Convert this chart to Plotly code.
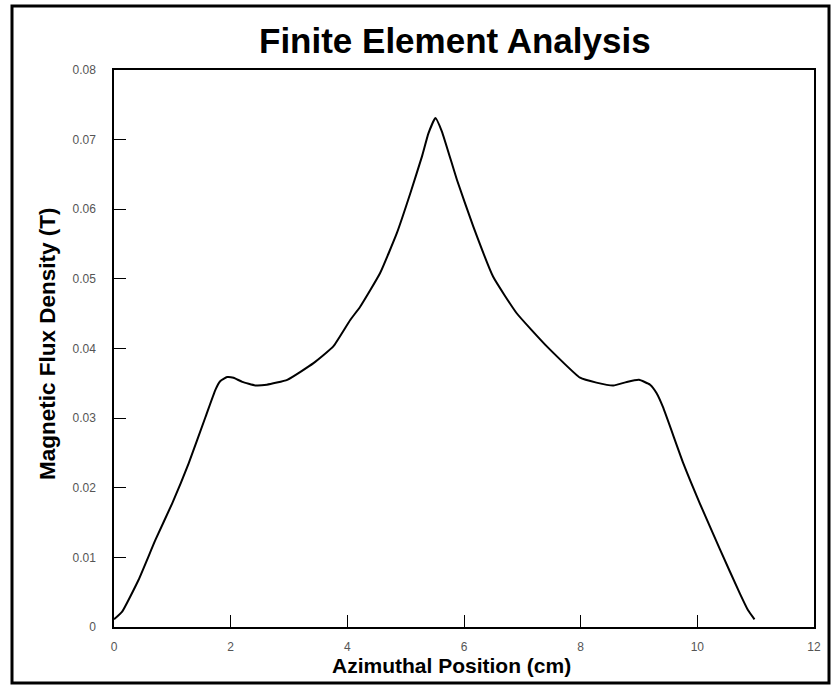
import plotly.graph_objects as go

# Flux density profile along the azimuthal direction
position_cm = [0.0, 0.14, 0.42, 0.71, 1.0, 1.28, 1.57, 1.74, 1.82, 1.94, 2.05, 2.2,
               2.42, 2.62, 2.97, 3.42, 3.76, 4.05, 4.22, 4.56, 4.85, 5.08, 5.28, 5.39,
               5.51, 5.62, 5.88, 6.16, 6.50, 6.90, 7.42, 7.99, 8.27, 8.56, 8.79, 9.0,
               9.19, 9.30, 9.41, 9.76, 10.04, 10.39, 10.73, 10.87, 10.98]
flux_density_t = [0.0011, 0.0022, 0.00675, 0.0125, 0.0178, 0.0235, 0.0302, 0.0341, 0.0353,
                  0.0359, 0.0358, 0.0352, 0.0347, 0.0348, 0.0355, 0.0379, 0.0403, 0.0441,
                  0.0460, 0.0508, 0.0566, 0.0623, 0.0676, 0.0709, 0.0731, 0.0712, 0.0642,
                  0.0575, 0.0503, 0.0451, 0.0403, 0.0358, 0.0351, 0.03467, 0.0352, 0.0355,
                  0.0348, 0.0336, 0.0316, 0.0235, 0.0178, 0.0111, 0.0048, 0.0024, 0.0011]

x_ticks = [0, 2, 4, 6, 8, 10, 12]
x_tick_text = ["0", "2", "4", "6", "8", "10", "12"]
y_ticks = [0, 0.01, 0.02, 0.03, 0.04, 0.05, 0.06, 0.07, 0.08]
y_tick_text = ["0", "0.01", "0.02", "0.03", "0.04", "0.05", "0.06", "0.07", "0.08"]

W, H = 832, 685
L, R, T, B = 114, 18, 70, 58
pw, ph = W - L - R, H - T - B


def px_x(px):
    return (px - L) / pw


def px_y(py):
    return (H - B - py) / ph


fig = go.Figure(go.Scatter(
    x=position_cm, y=flux_density_t, mode="lines",
    line=dict(color="black", width=2, shape="spline", smoothing=0.4),
    hoverinfo="skip", showlegend=False,
))

axis_common = dict(
    showgrid=False, zeroline=False, showline=True, linecolor="black", linewidth=1.5,
    mirror=True, ticks="inside", ticklen=12, tickwidth=1, tickcolor="black",
    tickfont=dict(family="Liberation Sans Narrow, Liberation Sans", size=12, color="#555555"),
)

fig.update_xaxes(range=[0, 12], tickvals=x_ticks, ticktext=x_tick_text,
                 ticklabelstandoff=8, **axis_common)
fig.update_yaxes(range=[0, 0.08], tickvals=y_ticks, ticktext=y_tick_text,
                 ticklabelstandoff=14, **axis_common)

fig.update_layout(
    width=W, height=H,
    margin=dict(l=L, r=R, t=T, b=B),
    paper_bgcolor="white", plot_bgcolor="white",
    font=dict(family="Liberation Sans", color="black"),
    annotations=[
        dict(text="<b>Finite Element Analysis</b>", xref="paper", yref="paper",
             x=px_x(455), y=px_y(40), xanchor="center", yanchor="middle", showarrow=False,
             font=dict(family="Liberation Sans", size=35, color="black")),
        dict(text="<b>Azimuthal Position (cm)</b>", xref="paper", yref="paper",
             x=px_x(451), y=px_y(665), xanchor="center", yanchor="middle", showarrow=False,
             font=dict(family="Liberation Sans", size=21, color="black")),
        dict(text="<b>Magnetic Flux Density (T)</b>", xref="paper", yref="paper",
             x=px_x(47), y=px_y(344), xanchor="center", yanchor="middle",
             showarrow=False, textangle=-90,
             font=dict(family="Liberation Sans", size=22.5, color="black")),
    ],
    shapes=[
        dict(type="rect", xref="paper", yref="paper",
             x0=px_x(12), x1=px_x(829), y0=px_y(683), y1=px_y(6),
             line=dict(color="black", width=3), fillcolor="rgba(0,0,0,0)", layer="below"),
    ],
)

fig.write_html("out.html")
